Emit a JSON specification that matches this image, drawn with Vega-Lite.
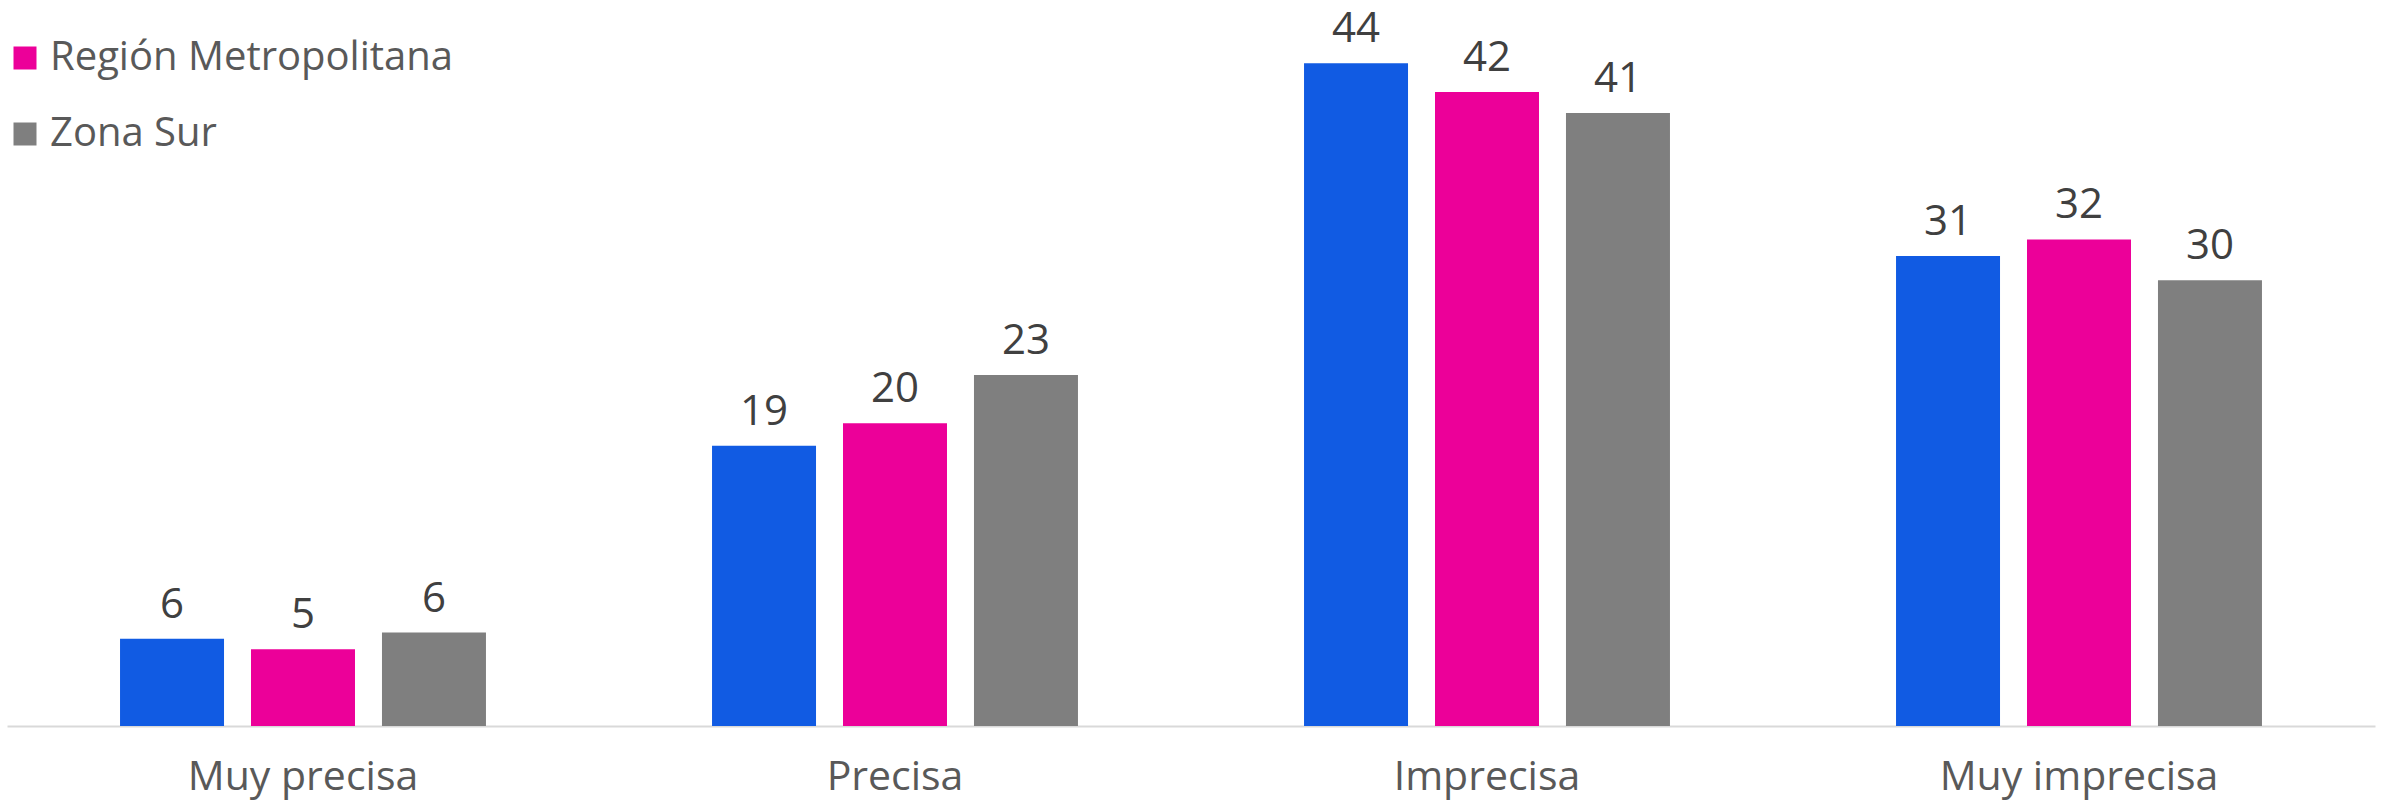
{
  "$schema": "https://vega.github.io/schema/vega-lite/v6.json",
  "width": 2368,
  "height": 726,
  "padding": {"left": 7, "right": 7, "top": 0, "bottom": 76},
  "autosize": {"type": "none"},
  "background": "white",
  "config": {"view": {"stroke": null}, "font": "Open Sans"},
  "data": {
    "values": [
      {"categoria": "Muy precisa", "serie": "Total", "valor": 5.8},
      {"categoria": "Muy precisa", "serie": "Región Metropolitana", "valor": 5.1},
      {"categoria": "Muy precisa", "serie": "Zona Sur", "valor": 6.2},
      {"categoria": "Precisa", "serie": "Total", "valor": 18.6},
      {"categoria": "Precisa", "serie": "Región Metropolitana", "valor": 20.1},
      {"categoria": "Precisa", "serie": "Zona Sur", "valor": 23.3},
      {"categoria": "Imprecisa", "serie": "Total", "valor": 44.0},
      {"categoria": "Imprecisa", "serie": "Región Metropolitana", "valor": 42.1},
      {"categoria": "Imprecisa", "serie": "Zona Sur", "valor": 40.7},
      {"categoria": "Muy imprecisa", "serie": "Total", "valor": 31.2},
      {"categoria": "Muy imprecisa", "serie": "Región Metropolitana", "valor": 32.3},
      {"categoria": "Muy imprecisa", "serie": "Zona Sur", "valor": 29.6}
    ]
  },
  "encoding": {
    "x": {
      "field": "categoria",
      "type": "nominal",
      "sort": ["Muy precisa", "Precisa", "Imprecisa", "Muy imprecisa"],
      "scale": {"paddingInner": 0, "paddingOuter": 0},
      "axis": {
        "title": null,
        "labelAngle": 0,
        "labelFontSize": 41,
        "labelColor": "#595959",
        "labelBaseline": "alphabetic",
        "labelPadding": 63,
        "labelLimit": 1000,
        "ticks": false,
        "tickSize": 0,
        "domainColor": "#d9d9d9",
        "domainWidth": 2,
        "grid": false
      }
    },
    "xOffset": {
      "field": "serie",
      "type": "nominal",
      "sort": ["Total", "Región Metropolitana", "Zona Sur"],
      "scale": {"paddingInner": 0.206, "paddingOuter": 0.863}
    },
    "y": {
      "field": "valor",
      "type": "quantitative",
      "scale": {"domain": [0, 48.2], "nice": false, "zero": true},
      "axis": null
    }
  },
  "layer": [
    {
      "mark": {"type": "bar"},
      "encoding": {
        "color": {
          "field": "serie",
          "type": "nominal",
          "scale": {
            "domain": ["Total", "Región Metropolitana", "Zona Sur"],
            "range": ["#115BE3", "#EC0099", "#7F7F7F"]
          },
          "legend": {
            "values": ["Región Metropolitana", "Zona Sur"],
            "title": null,
            "orient": "none",
            "legendX": -2,
            "legendY": 38,
            "padding": 0,
            "symbolType": "square",
            "symbolSize": 529,
            "symbolStrokeWidth": 0,
            "labelFontSize": 40,
            "labelColor": "#595959",
            "labelOffset": 5,
            "rowPadding": 36,
            "labelLimit": 1000
          }
        }
      }
    },
    {
      "mark": {"type": "text", "dy": -21, "baseline": "alphabetic", "fontSize": 42, "color": "#404040"},
      "encoding": {
        "text": {"field": "valor", "type": "quantitative", "format": ".0f"}
      }
    }
  ]
}
